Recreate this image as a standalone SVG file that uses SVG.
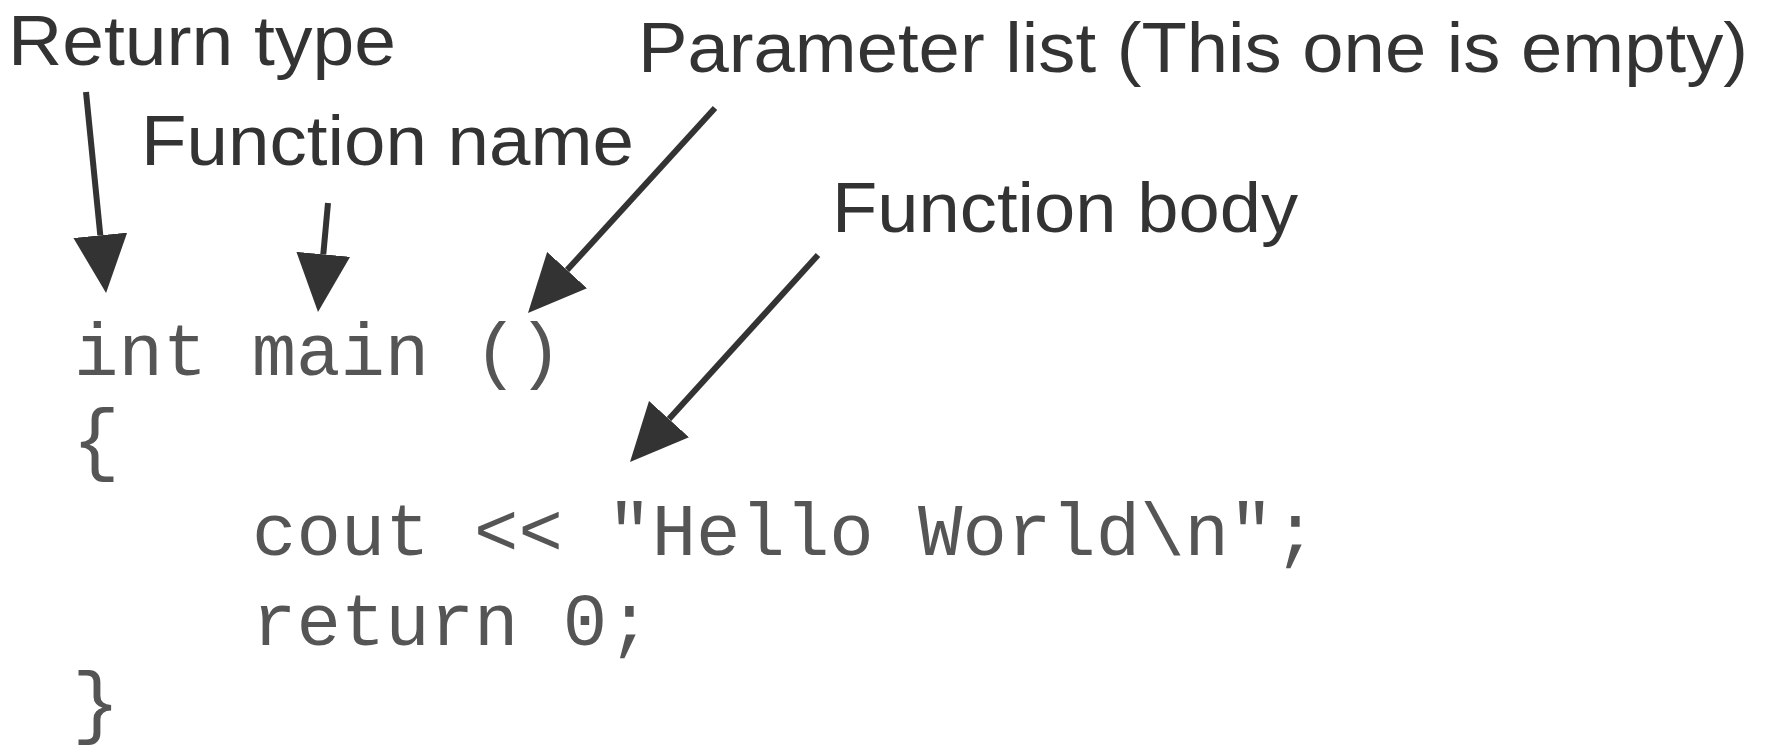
<svg xmlns="http://www.w3.org/2000/svg" width="1766" height="751" viewBox="0 0 1766 751">
  <style>
    .label { font-family: "Liberation Sans", Arial, Helvetica, sans-serif; font-size: 70px; fill: #333333; }
    .code { font-family: "Liberation Mono", "Courier New", monospace; font-size: 74px; fill: #555555; }
    .brace { font-size: 80px; }
    .arrow { stroke: #333333; stroke-width: 6; fill: none; marker-end: url(#head); }
  </style>
  <defs>
    <marker id="head" markerUnits="userSpaceOnUse" markerWidth="60" markerHeight="54" refX="0" refY="27" orient="auto" viewBox="0 0 60 54">
      <path d="M0,0 L58,27 L0,54 Z" fill="#333333"/>
    </marker>
  </defs>
  <rect width="1766" height="751" fill="#ffffff"/>

  <!-- callout labels -->
  <g id="label-return-type">
    <text class="label" x="8" y="65" textLength="388" lengthAdjust="spacingAndGlyphs">Return type</text>
  </g>
  <g id="label-function-name">
    <text class="label" x="141" y="165" textLength="493" lengthAdjust="spacingAndGlyphs">Function name</text>
  </g>
  <g id="label-parameter-list">
    <text class="label" x="638" y="72" textLength="1110" lengthAdjust="spacingAndGlyphs">Parameter list (This one is empty)</text>
  </g>
  <g id="label-function-body">
    <text class="label" x="832" y="232" textLength="466" lengthAdjust="spacingAndGlyphs">Function body</text>
  </g>

  <!-- source listing -->
  <g id="code-listing">
    <text class="code" x="74" y="375">int main ()</text>
    <text class="code brace" x="72" y="465">{</text>
    <text class="code" x="252" y="555">cout &lt;&lt; "Hello World\n";</text>
    <text class="code" x="252" y="645">return 0;</text>
    <text class="code brace" x="72" y="728">}</text>
  </g>

  <!-- pointer arrows: each line stops at the base of its arrowhead -->
  <g id="connectors">
    <line class="arrow" x1="86" y1="92" x2="100.3" y2="235.3"/>
    <line class="arrow" x1="328" y1="203" x2="323.3" y2="254.3"/>
    <line class="arrow" x1="715" y1="108" x2="567.1" y2="270.1"/>
    <line class="arrow" x1="818" y1="255" x2="669" y2="419.1"/>
  </g>
</svg>
